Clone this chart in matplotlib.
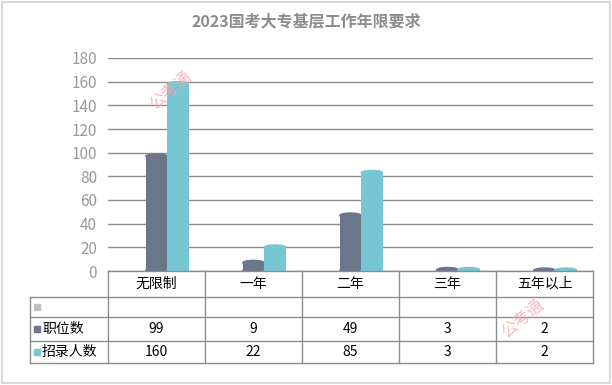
import matplotlib.pyplot as plt
from matplotlib.patches import Ellipse, Rectangle
from matplotlib.lines import Line2D

plt.rcParams['font.family'] = ['Noto Sans CJK SC', 'DejaVu Sans']

categories = ['无限制', '一年', '二年', '三年', '五年以上']
jobs = [99, 9, 49, 3, 2]
hires = [160, 22, 85, 3, 2]
series_names = ['职位数', '招录人数']
c_jobs = '#6a7689'
c_hires = '#76c6d4'
grey = '#8c8c8c'

W, H = 612, 385
fig = plt.figure(figsize=(W / 100, H / 100), dpi=100)

# plot area in pixels
x0, x1 = 108, 593
y_bot, y_top = 271, 58
ax = fig.add_axes([x0 / W, 1 - y_bot / H, (x1 - x0) / W, (y_bot - y_top) / H])
ax.set_xlim(-0.5, len(categories) - 0.5)
ax.set_ylim(0, 180)
ax.set_yticks(range(0, 181, 20))
ax.yaxis.grid(True, color=grey, lw=1)
ax.set_axisbelow(True)
for s in ax.spines.values():
    s.set_visible(False)
ax.tick_params(axis='y', length=0, labelcolor='#999999', labelsize=11, pad=8)
ax.set_xticks([])

bw = 0.22
off = 0.11
cap_h = 4.0
for i, (a, b) in enumerate(zip(jobs, hires)):
    for xc, v, col in [(i + off - bw / 2, a, c_jobs), (i + off + bw / 2, b, c_hires)]:
        top = max(v - cap_h / 2, 0.5)
        ax.bar(xc, top, width=bw, color=col, zorder=3)
        ax.add_patch(Ellipse((xc, top), bw, cap_h, color=col, zorder=3))
        ax.add_patch(Ellipse((xc, 0.5), bw, cap_h / 1.5, color=col, zorder=3))

# data table
cols = [108, 205, 302, 399, 496, 593]
rows = [271, 297, 317, 341, 363]
lx = 30
lc = '#8c8c8c'
for y in rows:
    xs = x0 if y == rows[0] else lx
    fig.add_artist(Line2D([xs / W, x1 / W], [1 - y / H, 1 - y / H], color=lc, lw=1))
for x in cols:
    fig.add_artist(Line2D([x / W, x / W], [1 - rows[0] / H, 1 - rows[-1] / H], color=lc, lw=1))
fig.add_artist(Line2D([lx / W, lx / W], [1 - rows[1] / H, 1 - rows[-1] / H], color=lc, lw=1))

for i, c in enumerate(categories):
    fig.text((cols[i] + cols[i + 1]) / 2 / W, 1 - (rows[0] + rows[1]) / 2 / H, c,
             ha='center', va='center', fontsize=10)

row_labels = [('', '#bfbfbf'), (series_names[0], c_jobs), (series_names[1], c_hires)]
row_vals = [None, jobs, hires]
for r, ((lab, col), vals) in enumerate(zip(row_labels, row_vals)):
    yc = (rows[r + 1] + rows[r + 2]) / 2
    fig.add_artist(Rectangle(((lx + 4) / W, 1 - (yc + 3) / H), 6 / W, 6 / H,
                             transform=fig.transFigure, color=col))
    if lab:
        fig.text((lx + 12) / W, 1 - yc / H, lab, ha='left', va='center', fontsize=10)
    if vals:
        for i, v in enumerate(vals):
            fig.text((cols[i] + cols[i + 1]) / 2 / W, 1 - yc / H, str(v),
                     ha='center', va='center', fontsize=10)

fig.text(0.5, 1 - 21 / H, '2023国考大专基层工作年限要求', ha='center', va='center',
         fontsize=11.5, fontweight='bold', color='#8c8c8c')

# watermarks
for wx, wy in [(170, 90), (522, 318)]:
    fig.text(wx / W, 1 - wy / H, '公考通', ha='center', va='center', fontsize=12,
             color='#f4a9ad', rotation=40, alpha=0.8)

# outer frame
fig.add_artist(Rectangle((2 / W, 2 / H), (W - 4) / W, (H - 4) / H, transform=fig.transFigure,
                         fill=False, edgecolor='#d9d9d9', lw=1.5))

fig.savefig('out.png', dpi=100)
